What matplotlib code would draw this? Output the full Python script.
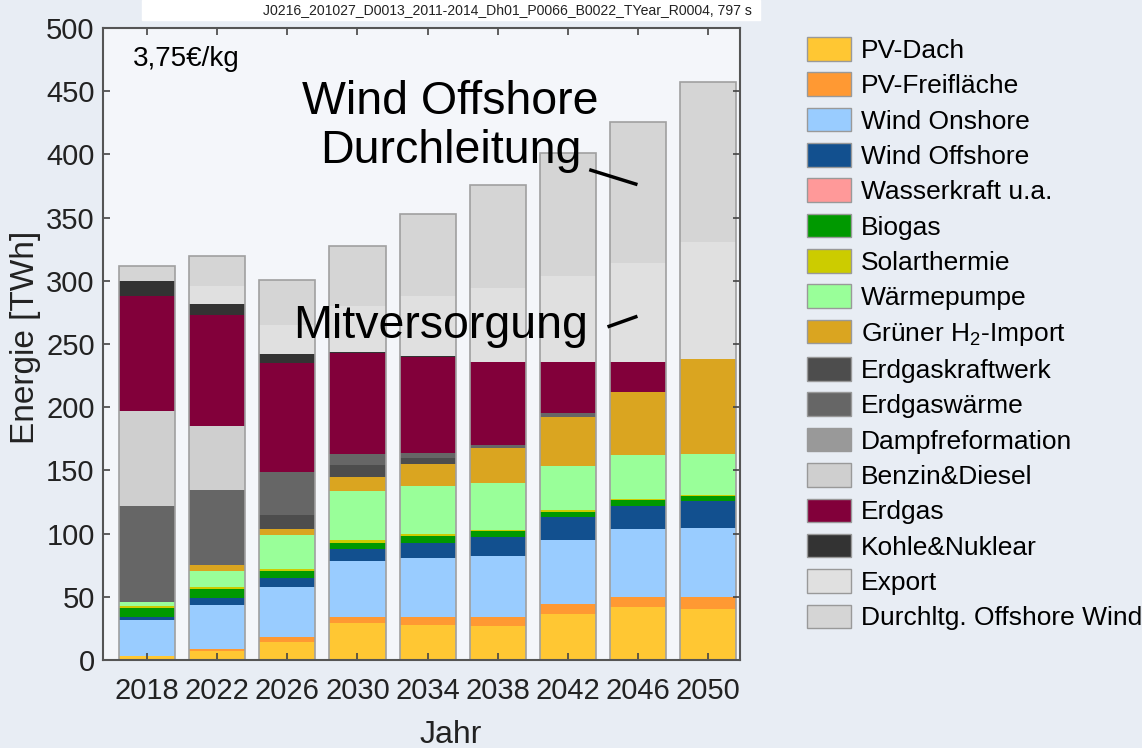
import numpy as np
import matplotlib
matplotlib.use("Agg")
import matplotlib.pyplot as plt
from matplotlib.patches import Patch, Rectangle

plt.rcParams['font.family'] = ['Liberation Sans', 'DejaVu Sans']
plt.rcParams['mathtext.default'] = 'regular'

years = ['2018', '2022', '2026', '2030', '2034', '2038', '2042', '2046', '2050']

labels = ['PV-Dach', 'PV-Freifläche', 'Wind Onshore', 'Wind Offshore', 'Wasserkraft u.a.',
          'Biogas', 'Solarthermie', 'Wärmepumpe', 'Grüner H$_2$-Import', 'Erdgaskraftwerk',
          'Erdgaswärme', 'Dampfreformation', 'Benzin&Diesel', 'Erdgas', 'Kohle&Nuklear',
          'Export', 'Durchltg. Offshore Wind']

colors = ['#ffc733', '#ff9933', '#99ccff', '#12508f', '#ff9999',
          '#009900', '#cccc00', '#99ff99', '#daa520', '#4d4d4d',
          '#666666', '#999999', '#cfcfcf', '#82003a', '#333333',
          '#e0e0e0', '#d5d5d5']

# TWh per year, bottom to top
pv_dach = [3, 7, 14.5, 29.5, 27.7, 26.9, 36.4, 41.7, 40.2]
pv_frei = [0.5, 2, 3.5, 4.8, 6.6, 7.4, 8.3, 8.3, 9.8]
wind_on = [28, 34.5, 39.5, 44.3, 46.1, 48, 50, 53.7, 54.8]
wind_off = [2.8, 5.3, 7.1, 9, 12.4, 14.7, 18.2, 18.5, 21]
wasser = [0, 0, 0, 0, 0, 0, 0, 0, 0]
biogas = [7.2, 7.1, 6, 5, 5.5, 4.8, 4.5, 4.5, 4]
solarth = [1.3, 2.1, 1.5, 2.6, 1.3, 1, 1, 0.5, 0.5]
waermep = [3.4, 12.7, 26.8, 38.3, 38.2, 37.5, 35, 35, 33]
h2_import = [0, 4.5, 5.1, 11.1, 17.2, 27.2, 38.7, 50, 75.2]
gas_kw = [0, 0, 10.7, 10, 4.8, 0, 0, 0, 0]
gas_waerme = [75.7, 59.3, 34.3, 8.4, 3.6, 2.5, 3, 0, 0]
dampfref = [0, 0, 0, 0, 0, 0, 0, 0, 0]
benzin = [75.2, 50.5, 0, 0, 0, 0, 0, 0, 0]
erdgas = [91, 88, 85.7, 80, 76.5, 66, 40.9, 23.2, 0]
kohle = [12, 9, 7.1, 1, 1, 0, 0, 0, 0]
export = [0, 14, 23.2, 36, 46.9, 58, 67.9, 78.9, 92.3]
durchltg = [12, 23.6, 35.6, 47.5, 65.4, 81.8, 96.9, 111.7, 126.3]

series = [pv_dach, pv_frei, wind_on, wind_off, wasser, biogas, solarth, waermep,
          h2_import, gas_kw, gas_waerme, dampfref, benzin, erdgas, kohle, export, durchltg]

fig = plt.figure(figsize=(11.42, 7.48), dpi=100)
fig.patch.set_facecolor('#e8edf4')
ax = fig.add_axes([0.0902, 0.1176, 0.558, 0.845])
ax.set_facecolor('#f4f6fa')

x = np.arange(len(years))
bottom = np.zeros(len(years))
for vals, col in zip(series, colors):
    ax.bar(x, vals, 0.8, bottom=bottom, color=col, linewidth=0)
    bottom += np.array(vals)
# outline around each bar
ax.bar(x, bottom, 0.8, facecolor='none', edgecolor='#a0a0a0', linewidth=1.2)

ax.set_xlim(-0.63, 8.46)
ax.set_ylim(0, 500)
ax.set_yticks(np.arange(0, 501, 50))
ax.set_xticks(x)
ax.set_xticklabels(years)
ax.tick_params(direction='in', top=True, right=True, length=5, width=1.2,
               labelsize=21, labelcolor='#222222', color='#444444')
ax.tick_params(axis='x', pad=12)
ax.tick_params(axis='y', pad=6)
for s in ax.spines.values():
    s.set_color('#555555')
    s.set_linewidth(1.5)
ax.set_ylabel('Energie [TWh]', fontsize=24, color='#222222')
ax.yaxis.set_label_coords(-0.097, 0.51)
ax.set_xlabel('Jahr', fontsize=23, color='#222222')
ax.xaxis.set_label_coords(0.545, -0.095)

ax.text(0.047, 0.951, '3,75€/kg', transform=ax.transAxes, fontsize=20,
        ha='left', va='center')

ax.text(4.33, 422, 'Wind Offshore\nDurchleitung', fontsize=33.5, ha='center', va='center',
        linespacing=1.15)
ax.plot([6.33, 6.97], [387.5, 376.5], color='black', linewidth=2.5)
ax.text(4.19, 264, 'Mitversorgung', fontsize=33.5, ha='center', va='center')
ax.plot([6.59, 6.97], [264, 271.5], color='black', linewidth=2.5)

# white strip with the run id
fig.patches.append(Rectangle((142 / 1142, 1 - 20 / 748), 618 / 1142, 20 / 748,
                             transform=fig.transFigure, color='white', zorder=0))
fig.text(752 / 1142, 1 - 10 / 748,
         'J0216_201027_D0013_2011-2014_Dh01_P0066_B0022_TYear_R0004, 797 s',
         fontsize=10.1, ha='right', va='center', color='#222222')

handles = [Patch(facecolor=c, edgecolor='#999999', linewidth=1.0) for c in colors]
fig.legend(handles, labels, loc='upper left', bbox_to_anchor=(807 / 1142, 1 - 37 / 748),
           frameon=False, fontsize=19, handlelength=1.65, handleheight=1.0,
           labelspacing=0.36, handletextpad=0.4, borderpad=0, borderaxespad=0)

fig.savefig('out.png', dpi=100, facecolor=fig.get_facecolor())
